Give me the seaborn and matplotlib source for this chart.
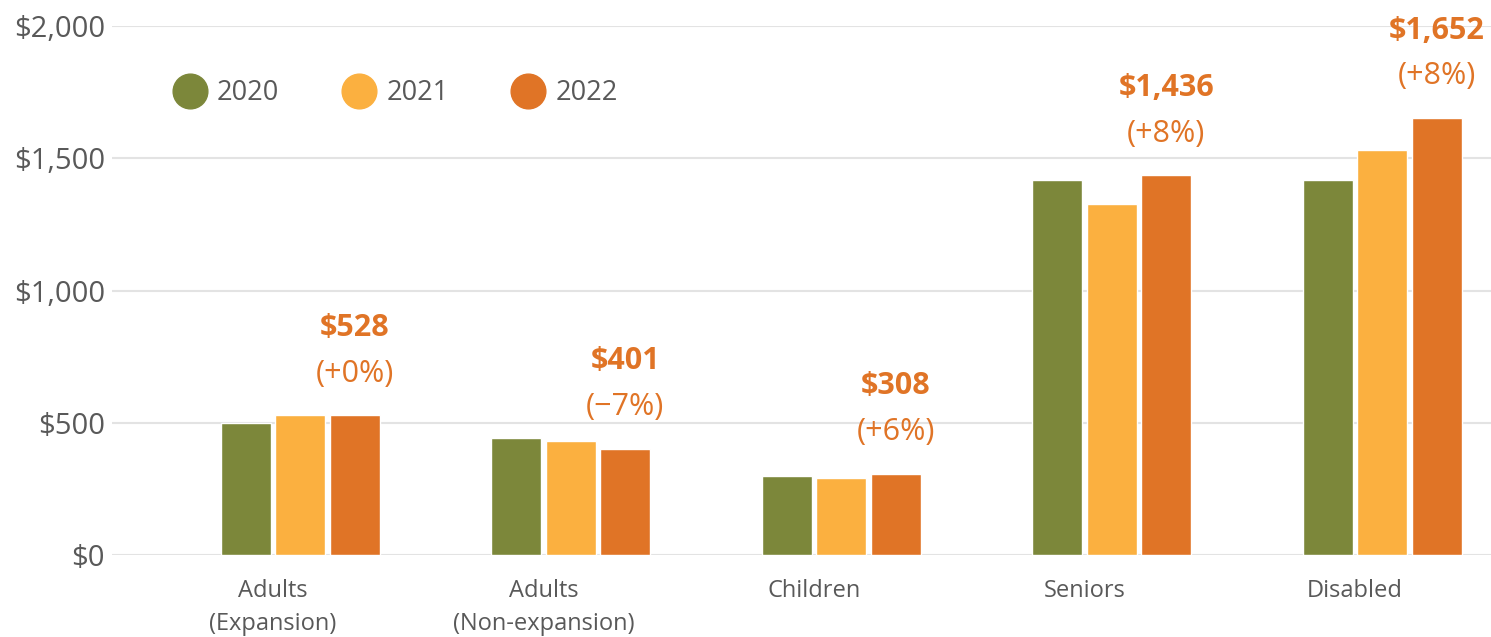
import seaborn as sns
import matplotlib.pyplot as plt
import pandas as pd
from matplotlib.lines import Line2D

categories = ["Adults\n(Expansion)", "Adults\n(Non-expansion)", "Children", "Seniors", "Disabled"]
years = ["2020", "2021", "2022"]
v2020 = [500, 441, 299, 1416, 1419]
v2021 = [528, 432, 291, 1328, 1532]
v2022 = [528, 401, 308, 1436, 1652]
pct_labels = ["(+0%)", "(\u22127%)", "(+6%)", "(+8%)", "(+8%)"]
colors = ["#7C873A", "#FBB040", "#E07426"]
yticks = [0, 500, 1000, 1500, 2000]
ytick_labels = ["$0", "$500", "$1,000", "$1,500", "$2,000"]

sns.set_theme(style="white")
plt.rcParams['font.family'] = ['Open Sans', 'DejaVu Sans']
TXT = "#595959"

spacer = " "
rows = []
for i, c in enumerate(categories):
    rows.append((c, spacer, float('nan')))
    for y, vals in zip(years, [v2020, v2021, v2022]):
        rows.append((c, y, vals[i]))
df = pd.DataFrame(rows, columns=["category", "year", "value"])

W, H = 1491, 637
fig = plt.figure(figsize=(W / 100, H / 100), dpi=100)
ax = fig.add_axes([112 / W, 1 - 555 / H, (1491 - 112) / W, (555 - 26) / H])

sns.barplot(data=df, x="category", y="value", hue="year",
            hue_order=[spacer] + years, order=categories,
            palette=["#FFFFFF"] + colors, width=0.806, gap=0.08,
            saturation=1, errorbar=None, legend=False, ax=ax)

scale = 270.5
ax.set_xlim((112 - 273) / scale, (1491 - 273) / scale)
ax.set_ylim(0, 2000)
ax.set_yticks(yticks)
ax.set_yticklabels(ytick_labels)
ax.yaxis.grid(True, color="#E3E3E3", linewidth=1.5)
ax.set_axisbelow(True)
for s in ax.spines.values():
    s.set_visible(False)
ax.set_xlabel("")
ax.set_ylabel("")
ax.tick_params(axis="y", length=0, pad=5, labelsize=21, labelcolor=TXT)
ax.tick_params(axis="x", length=0, pad=17, labelsize=17, labelcolor=TXT)
for lab in ax.get_xticklabels():
    lab.set_linespacing(1.5)

bars22 = ax.containers[-1]
for bar, val, pct in zip(bars22, v2022, pct_labels):
    xc = bar.get_x() + bar.get_width() / 2
    h = bar.get_height()
    ax.annotate(f"${val:,}", (xc, h), xytext=(0, 63), textcoords="offset points",
                ha="center", va="center", fontsize=22, fontweight="bold",
                color=colors[2])
    ax.annotate(pct, (xc, h), xytext=(0, 30), textcoords="offset points",
                ha="center", va="center", fontsize=22, color=colors[2])

handles = [Line2D([], [], marker="o", linestyle="none", markersize=25,
                  markerfacecolor=c, markeredgecolor=c) for c in colors]
leg = fig.legend(handles, years, loc="center left", bbox_to_anchor=(148 / W, 1 - 93 / H),
                 ncol=3, frameon=False, fontsize=19.5, handletextpad=0.35,
                 columnspacing=2.3, handlelength=1.3)
for t in leg.get_texts():
    t.set_color(TXT)

fig.savefig("out.png", dpi=100)
